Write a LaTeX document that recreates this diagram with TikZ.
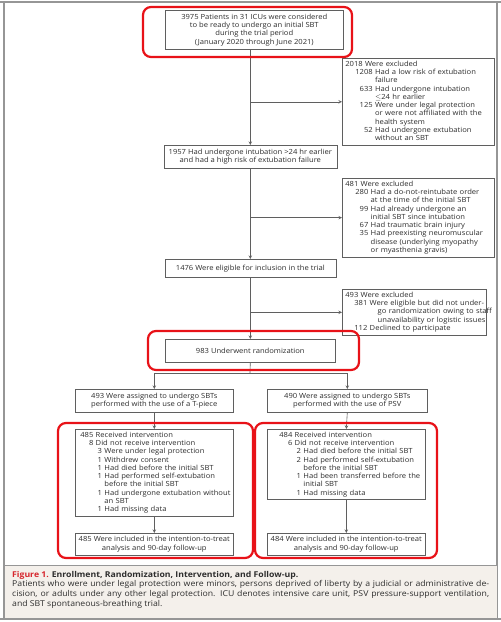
\documentclass[tikz,border=0pt]{standalone}
\usepackage{fontspec}
\setmainfont{Open Sans}[FakeStretch=1.08]
\usepackage{array}
\usepackage{tikz}

\definecolor{hlred}{RGB}{232,18,24}
\definecolor{boxgray}{RGB}{95,95,95}
\definecolor{txtgray}{RGB}{45,45,45}
\definecolor{capbg}{RGB}{244,240,235}
\definecolor{figred}{RGB}{214,38,45}
\definecolor{framegray}{RGB}{150,150,150}

\newcommand{\boxfont}{\fontsize{7.05pt}{8.3pt}\selectfont}
\newcommand{\capfont}{\fontsize{8.05pt}{9.6pt}\selectfont}

\begin{document}
\begin{tikzpicture}[>=stealth, x=1pt, y=-1pt,
    cbox/.style={draw=boxgray, line width=0.6pt, fill=white, text=txtgray, font=\boxfont,
      align=center, inner sep=2pt, anchor=north west},
    lbox/.style={cbox, align=left, inner xsep=3pt},
    link/.style={draw=boxgray, line width=0.6pt},
    hlframe/.style={draw=hlred, line width=2.2pt, rounded corners=8pt}]
	%the page
    \useasboundingbox (0,0) rectangle (501,622);
    \draw[framegray, line width=1.2pt] (0,2) -- (501,2);
    \draw[framegray, line width=1.2pt] (4,2) -- (4,619) (497,2) -- (497,619);
    \draw[framegray, line width=1.2pt] (0,619) -- (501,619);

	%main column
    \node[cbox, minimum width=178pt, minimum height=39pt] (b1) at (165,10)
      {3975 Patients in 31 ICUs were considered\\ to be ready to undergo an initial SBT\\
       during the trial period\\ (January 2020 through June 2021)};
    \node[cbox, minimum width=173pt, minimum height=23pt] (b2) at (163.5,145)
      {1957 Had undergone intubation >24 hr earlier\\ and had a high risk of extubation failure};
    \node[cbox, minimum width=171pt, minimum height=18pt] (b3) at (164.5,259)
      {1476 Were eligible for inclusion in the trial};
    \node[cbox, minimum width=170pt, minimum height=23pt] (b4) at (165,339)
      {983 Underwent randomization};

	%excluded boxes
    \node[lbox, text width=146pt, minimum height=76pt] (ex1) at (342,58) {%
      \begin{tabular}{@{\hspace{10pt}}r@{\ }l@{}}
      \multicolumn{2}{@{}l@{}}{2018 Were excluded}\\
      1208 & Had a low risk of extubation\\
           & failure\\
      633  & Had undergone intubation\\
           & $\le$24 hr earlier\\
      125  & Were under legal protection\\
           & or were not affiliated with the\\
           & health system\\
      52   & Had undergone extubation\\
           & without an SBT
      \end{tabular}};
    \node[lbox, text width=146pt, minimum height=76pt] (ex2) at (342,178) {%
      \begin{tabular}{@{\hspace{10pt}}r@{\ }l@{}}
      \multicolumn{2}{@{}l@{}}{481 Were excluded}\\
      280 & Had a do-not-reintubate order\\
          & at the time of the initial SBT\\
      99  & Had already undergone an\\
          & initial SBT since intubation\\
      67  & Had traumatic brain injury\\
      35  & Had preexisting neuromuscular\\
          & disease (underlying myopathy\\
          & or myasthenia gravis)
      \end{tabular}};
    \node[lbox, text width=138pt, minimum height=46pt] (ex3) at (342,289) {%
      \begin{tabular}{@{\hspace{9pt}}r@{\ }l@{}}
      \multicolumn{2}{@{}l@{}}{493 Were excluded}\\
      381 & Were eligible but did not under-\\
          & \hspace*{8pt}go randomization owing to staff\\
          & \hspace*{8pt}unavailability or logistic issues\\
      112 & Declined to participate
      \end{tabular}};

	%the two arms
    \node[cbox, minimum width=158pt, minimum height=23pt] (b5l) at (75,389)
      {493 Were assigned to undergo SBTs\\ performed with the use of a T-piece};
    \node[cbox, minimum width=160pt, minimum height=23pt] (b5r) at (267,389)
      {490 Were assigned to undergo SBTs\\ performed with the use of PSV};
    \node[lbox, text width=152pt, minimum height=86pt] (b6l) at (75,429) {%
      \begin{tabular}{@{\hspace{2pt}}r@{\ }r@{\ }l@{}}
      485 & \multicolumn{2}{@{}l@{}}{Received intervention}\\
      8   & \multicolumn{2}{@{}l@{}}{Did not receive intervention}\\
          & \hspace*{2pt}3 & Were under legal protection\\
          & \hspace*{2pt}1 & Withdrew consent\\
          & \hspace*{2pt}1 & Had died before the initial SBT\\
          & \hspace*{2pt}1 & Had performed self-extubation\\
          &                & before the initial SBT\\
          & \hspace*{2pt}1 & Had undergone extubation without\\
          &                & an SBT\\
          & \hspace*{2pt}1 & Had missing data
      \end{tabular}};
    \node[lbox, text width=152pt, minimum height=70pt] (b6r) at (267,429) {%
      \begin{tabular}{@{\hspace{9pt}}r@{\ }r@{\ }l@{}}
      484 & \multicolumn{2}{@{}l@{}}{Received intervention}\\
      6   & \multicolumn{2}{@{}l@{}}{Did not receive intervention}\\
          & \hspace*{2pt}2 & Had died before the initial SBT\\
          & \hspace*{2pt}2 & Had performed self-extubation\\
          &                & before the initial SBT\\
          & \hspace*{2pt}1 & Had been transferred before the\\
          &                & initial SBT\\
          & \hspace*{2pt}1 & Had missing data
      \end{tabular}};
    \node[cbox, minimum width=158pt, minimum height=22pt] (b7l) at (75,533)
      {485 Were included in the intention-to-treat\\ analysis and 90-day follow-up};
    \node[cbox, minimum width=158pt, minimum height=22pt] (b7r) at (267,533)
      {484 Were included in the intention-to-treat\\ analysis and 90-day follow-up};

	%connectors
    \draw[link,->] (b1.south -| b2.north) -- (b2.north);
    \draw[link,->] (ex1.west -| b2.north) -- (ex1.west);
    \draw[link,->] (b2.south) -- (b3.north);
    \draw[link,->] (ex2.west -| b2.south) -- (ex2.west);
    \draw[link,->] (b3.south) -- (b4.north);
    \draw[link,->] (ex3.west -| b3.south) -- (ex3.west);
    \coordinate (split) at (250,373);
    \draw[link] (b4.south) -- (split);
    \draw[link] (split -| b5l.north) -- (split -| b5r.north);
    \draw[link,->] (split -| b5l.north) -- (b5l.north);
    \draw[link,->] (split -| b5r.north) -- (b5r.north);
    \draw[link,->] (b5l.south) -- (b6l.north);
    \draw[link,->] (b5r.south) -- (b6r.north);
    \draw[link,->] (b6l.south) -- (b7l.north);
    \draw[link,->] (b6r.south) -- (b7r.north);

	%highlights
    \draw[hlframe] (143,7) rectangle (352,57);
    \draw[hlframe] (148,331) rectangle (359,370);
    \draw[hlframe] (58,423) rectangle (253,558);
    \draw[hlframe] (255,423) rectangle (437,558);

	%caption
    \draw[framegray, fill=capbg, line width=0.8pt] (4,565) rectangle (497,618);
    \node[anchor=north west, text width=477pt, inner sep=0pt, align=justify, font=\capfont,
      text=txtgray] (cap) at (12,571)
      {{\color{figred}\bfseries Figure 1.} {\bfseries Enrollment, Randomization, Intervention, and Follow-up.}\\
       Patients who were under legal protection were minors, persons deprived of liberty by a judicial or administrative de-\linebreak
       cision, or adults under any other legal protection. ICU denotes intensive care unit, PSV pressure-support ventilation,\linebreak
       and SBT spontaneous-breathing trial.};
\end{tikzpicture}
\end{document}
